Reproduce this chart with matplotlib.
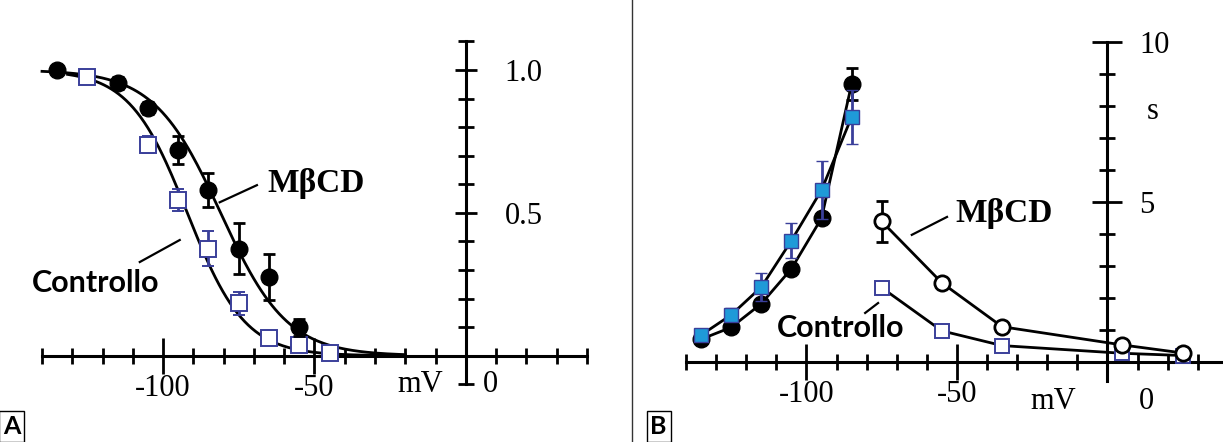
import numpy as np
import matplotlib.pyplot as plt
from matplotlib.lines import Line2D
from matplotlib.ticker import FixedLocator

# Panel A: steady-state activation (normalised)
a_mbcd_v = [-135, -115, -105, -95, -85, -75, -65, -55]
a_mbcd_y = [1.0, 0.955, 0.867, 0.72, 0.58, 0.375, 0.276, 0.10]
a_mbcd_err = [0.01, 0.02, 0.02, 0.05, 0.06, 0.09, 0.08, 0.03]
a_ctrl_v = [-125, -105, -95, -85, -75, -65, -55, -45]
a_ctrl_y = [0.977, 0.739, 0.545, 0.375, 0.184, 0.062, 0.037, 0.011]
a_ctrl_err = [0.01, 0.03, 0.04, 0.06, 0.04, 0.01, 0.01, 0.0]
# Boltzmann fit parameters (V1/2, slope k)
fit_mbcd = (-81.0, 11.0)
fit_ctrl = (-92.0, 9.5)

# Panel B: time constants (s)
b_hyp_v = [-135, -125, -115, -105, -95, -85]
b_mbcd_hyp = [0.70, 1.07, 1.81, 2.90, 4.48, 8.67]
b_mbcd_hyp_err = [0.05, 0.1, 0.1, 0.1, 0.15, 0.5]
b_ctrl_hyp = [0.83, 1.46, 2.33, 3.78, 5.36, 7.64]
b_ctrl_hyp_err = [0.1, 0.2, 0.45, 0.55, 0.9, 0.85]
b_dep_v = [-75, -55, -35, 5, 25]
b_mbcd_dep = [4.38, 2.46, 1.09, 0.52, 0.27]
b_mbcd_dep_err = [0.65, 0.05, 0.05, 0.05, 0.05]
b_ctrl_dep = [2.31, 0.96, 0.50, 0.26, 0.19]

blue_edge = '#3a3f9a'
blue_fill = '#1f9ad8'
lbl = 22

plt.rcParams['font.family'] = 'Liberation Serif'

fig = plt.figure(figsize=(12.23, 4.42), dpi=100)


def style_axes(ax, xlim, ylim, ybounds, yminor, ymajor, ylabels):
    ax.set_xlim(*xlim)
    ax.set_ylim(*ylim)
    for s in ['top', 'left']:
        ax.spines[s].set_visible(False)
    ax.spines['bottom'].set_position(('data', 0))
    ax.spines['right'].set_position(('data', 0))
    ax.spines['bottom'].set_bounds(-140, 40)
    ax.spines['right'].set_bounds(*ybounds)
    for s in ['bottom', 'right']:
        ax.spines[s].set_linewidth(2.2)
    ax.yaxis.set_ticks_position('right')
    ax.xaxis.set_ticks_position('bottom')
    ax.xaxis.set_major_locator(FixedLocator([-100, -50]))
    ax.xaxis.set_minor_locator(FixedLocator(np.arange(-140, 41, 10)))
    ax.set_xticklabels(['-100', '-50'])
    ax.yaxis.set_major_locator(FixedLocator(ymajor))
    ax.yaxis.set_minor_locator(FixedLocator(yminor))
    ax.set_yticklabels(ylabels, va='center_baseline')
    ax.tick_params(axis='x', which='minor', direction='inout', length=12, width=2)
    ax.tick_params(axis='x', which='major', direction='inout', length=26, width=2,
                   labelsize=lbl, pad=0)
    ax.tick_params(axis='y', which='minor', direction='inout', length=12, width=2)
    ax.tick_params(axis='y', which='major', direction='inout', length=16, width=2,
                   labelsize=lbl, pad=20)
    ax.patch.set_visible(False)


# ---------------- Panel A ----------------
axA = fig.add_axes([0.0294, 0.1176, 0.4554, 0.8145])
style_axes(axA, (-142, 42), (-0.12, 1.14), (-0.1, 1.1),
           np.round(np.arange(-0.1, 1.11, 0.1), 2), [0.5, 1.0], ['0.5', '1.0'])

vv = np.linspace(-140, -20, 200)
for (vh, k), start in [(fit_mbcd, -140), (fit_ctrl, -132)]:
    v = vv[vv >= start]
    axA.plot(v, 1 / (1 + np.exp((v - vh) / k)), color='black', lw=2, zorder=2)

axA.errorbar(a_ctrl_v, a_ctrl_y, yerr=a_ctrl_err, fmt='s', ms=11, mfc='white',
             mec=blue_edge, mew=1.4, ecolor=blue_edge, elinewidth=2, capsize=4,
             capthick=2, zorder=3)
axA.errorbar(a_mbcd_v, a_mbcd_y, yerr=a_mbcd_err, fmt='o', ms=12, mfc='black',
             mec='black', ecolor='black', elinewidth=2, capsize=4, capthick=2,
             zorder=4)

axA.text(-65.7, 0.604, 'MβCD', fontsize=24, fontweight='bold', ha='left', va='center')
axA.plot([-81.3, -69], [0.537, 0.597], color='black', lw=1.6)
axA.text(-143.4, 0.254, 'Controllo', family='Lato', fontsize=22, fontweight='bold',
         ha='left', va='center')
axA.plot([-107.7, -94.5], [0.328, 0.405], color='black', lw=1.6)
axA.text(-15, -0.1, 'mV', fontsize=lbl, ha='center', va='center')
axA.text(8, -0.1, '0', fontsize=lbl, ha='center', va='center')

# ---------------- Panel B ----------------
axB = fig.add_axes([0.5536, 0.095, 0.4464, 0.84])
style_axes(axB, (-143, 38.4), (-1.2, 10.4), (-0.6, 10),
           np.arange(0, 11, 1), [5, 10], ['5', '10'])
axB.tick_params(axis='y', which='major', length=22, pad=12)

axB.errorbar(b_hyp_v, b_mbcd_hyp, yerr=b_mbcd_hyp_err, fmt='-o', ms=12,
             color='black', lw=2, elinewidth=2, capsize=4, capthick=2, zorder=3)
axB.errorbar(b_hyp_v, b_ctrl_hyp, yerr=b_ctrl_hyp_err, fmt='-s', ms=10,
             color='black', mfc=blue_fill, mec=blue_edge, mew=1, lw=2,
             ecolor=blue_edge, elinewidth=2, capsize=4, capthick=2, zorder=4)
axB.plot(b_dep_v, b_ctrl_dep, '-s', ms=9.5, color='black', mfc='white',
         mec=blue_edge, mew=1.4, lw=2, zorder=3)
axB.errorbar(b_dep_v, b_mbcd_dep, yerr=b_mbcd_dep_err, fmt='-o', ms=11,
             color='black', mfc='white', mew=2, lw=2, elinewidth=2, capsize=4,
             capthick=2, zorder=4)

axB.text(-50.6, 4.64, 'MβCD', fontsize=24, fontweight='bold', ha='left', va='center')
axB.plot([-65, -53.3], [3.96, 4.52], color='black', lw=1.6)
axB.text(-88.5, 1.05, 'Controllo', family='Lato', fontsize=22, fontweight='bold',
         ha='center', va='center')
axB.plot([-80.5, -76.2], [1.52, 1.83], color='black', lw=1.6)
axB.text(15, 7.8, 's', fontsize=lbl, ha='center', va='center')
axB.text(-18, -1.25, 'mV', fontsize=lbl, ha='center', va='center')
axB.text(13, -1.25, '0', fontsize=lbl, ha='center', va='center')

# panel letters and separator
box = dict(boxstyle='square,pad=0.15', fc='white', ec='black', lw=1)
fig.text(0.0095, 0.035, 'A', family='Lato', fontsize=18, fontweight='bold',
         ha='center', va='center', bbox=box)
fig.text(0.5385, 0.035, 'B', family='Lato', fontsize=18, fontweight='bold',
         ha='center', va='center', bbox=box)
fig.add_artist(Line2D([0.517, 0.517], [0, 1], color='#333333', lw=1))

fig.savefig('out.png', dpi=100)
